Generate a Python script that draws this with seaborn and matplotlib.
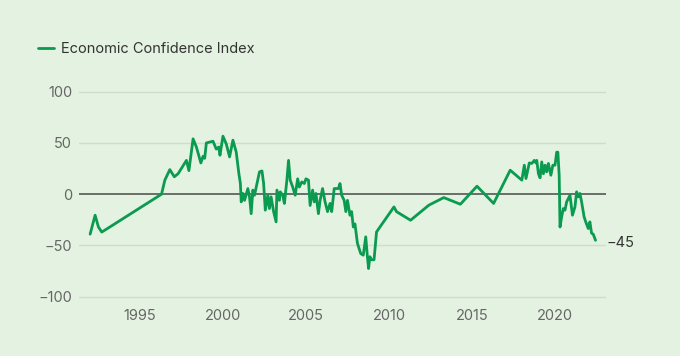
import matplotlib
matplotlib.use("Agg")
import matplotlib.pyplot as plt
import seaborn as sns
import pandas as pd

years = [1992.0, 1992.3, 1992.5, 1992.7, 1996.3, 1996.5, 1996.8, 1997.07, 1997.3, 1997.8,
         1997.95, 1998.2, 1998.4, 1998.67, 1998.8, 1998.9, 1999.0, 1999.4, 1999.6, 1999.75,
         1999.82, 2000.0, 2000.2, 2000.4, 2000.6, 2000.8, 2000.96, 2001.05, 2001.1, 2001.2,
         2001.3, 2001.5, 2001.6, 2001.7, 2001.8, 2001.9, 2002.05, 2002.2, 2002.35, 2002.45,
         2002.55, 2002.7, 2002.8, 2002.9, 2003.05, 2003.2, 2003.25, 2003.4, 2003.45, 2003.6,
         2003.7, 2003.85, 2003.95, 2004.05, 2004.2, 2004.35, 2004.5, 2004.6, 2004.75, 2004.9,
         2005.0, 2005.15, 2005.25, 2005.4, 2005.5, 2005.6, 2005.75, 2005.85, 2006.0, 2006.15,
         2006.3, 2006.45, 2006.55, 2006.7, 2006.95, 2007.05, 2007.15, 2007.3, 2007.4, 2007.5,
         2007.65, 2007.75, 2007.85, 2007.95, 2008.1, 2008.3, 2008.45, 2008.6, 2008.7, 2008.77,
         2008.85, 2008.95, 2009.1, 2009.25, 2010.3, 2010.45, 2011.3, 2012.4, 2013.3, 2014.3,
         2015.3, 2016.3, 2017.3, 2018.0, 2018.15, 2018.25, 2018.45, 2018.6, 2018.75, 2018.85,
         2018.9, 2019.0, 2019.1, 2019.2, 2019.3, 2019.4, 2019.5, 2019.6, 2019.75, 2019.87,
         2020.0, 2020.1, 2020.17, 2020.25, 2020.3, 2020.4, 2020.5, 2020.6, 2020.7, 2020.9,
         2021.05, 2021.2, 2021.3, 2021.4, 2021.5, 2021.6, 2021.75, 2021.85, 2022.0, 2022.1,
         2022.2, 2022.3, 2022.44]
index_values = [-39, -20.5, -32, -37, 0, 13.7, 24, 17, 20, 33,
                23, 54, 46, 30.5, 37, 35, 50, 51.7, 44, 46,
                38, 56.6, 49, 36.4, 52.7, 41, 20, 10.4, -7.5, 0.7,
                -6, 5.5, -2.6, -19, 4, -1, 10.4, 21.8, 22.7, 10.4,
                -15.6, -1, -14, -2.6, -17, -27, 4, -6, 2.3, -1,
                -9, 13.7, 33, 13.7, 7, -1, 15, 7, 12, 10.4,
                15, 13.7, -11, 4, -7.5, 0.7, -19, -6, 5.5, -7.5,
                -17, -9, -17, 5.5, 5.5, 10.4, -1, -6, -17, -6,
                -20.5, -17, -32, -29, -48, -58, -59.5, -41.6, -61, -72.5,
                -61, -64, -64, -36.8, -12.4, -17, -25.4, -10.7, -3.3, -9.8,
                7.8, -9, 23.4, 13.7, 28.3, 15.3, 30.5, 30, 33, 30.5,
                33, 20, 16, 31.5, 20, 28.3, 21.8, 30, 18.5, 28.3,
                28.3, 41, 41, 18.5, -32, -22, -14, -15.6, -7.5, -1,
                -20.5, -12.4, 2.3, -2.6, 0.7, -7.5, -22, -27, -33.5, -27,
                -38, -39, -45]

x_ticks = [1995, 2000, 2005, 2010, 2015, 2020]
y_ticks = [-100, -50, 0, 50, 100]
y_tick_labels = ["\u2212100", "\u221250", "0", "50", "100"]
series_name = "Economic Confidence Index"
end_label = "\u221245"

BG = "#e4f2e1"
LINE = "#0a9a50"
GRID = "#cddfca"
TEXT = "#666666"

sns.set_theme(style="white")
plt.rcParams["font.family"] = ["Inter", "DejaVu Sans"]

df = pd.DataFrame({"year": years, "value": index_values})

fig = plt.figure(figsize=(6.8, 3.56), dpi=100, facecolor=BG)
ax = fig.add_axes([79 / 680, 0.158, (606 - 79) / 680, 0.593])
ax.set_facecolor(BG)

for yv in y_ticks:
    if yv != 0:
        ax.axhline(yv, color=GRID, lw=1, zorder=1)
ax.axhline(0, color="#4a4a4a", lw=1.1, zorder=2)

sns.lineplot(data=df, x="year", y="value", ax=ax, color=LINE, lw=2.0,
             estimator=None, sort=False, label=series_name, zorder=3)

ax.set_xlim(1991.33, 2023.07)
ax.set_ylim(-103, 103)
ax.set_xticks(x_ticks)
ax.set_xticklabels([str(t) for t in x_ticks])
ax.set_yticks(y_ticks)
ax.set_yticklabels(y_tick_labels)
ax.tick_params(axis="both", length=0, labelsize=10.5, colors=TEXT)
ax.tick_params(axis="x", pad=7)
ax.tick_params(axis="y", pad=5)
ax.set_xlabel("")
ax.set_ylabel("")
for s in ax.spines.values():
    s.set_visible(False)

ax.annotate(end_label, xy=(years[-1], index_values[-1]), xytext=(8, -2),
            textcoords="offset points", va="center", ha="left",
            fontsize=10.5, color="#333333")

ax.legend(loc="center left", bbox_to_anchor=(0.036, 0.862), bbox_transform=fig.transFigure,
          frameon=False, handlelength=1.1, handletextpad=0.5, fontsize=10.5,
          labelcolor="#333333")

fig.savefig("out.png", dpi=100, facecolor=BG)
